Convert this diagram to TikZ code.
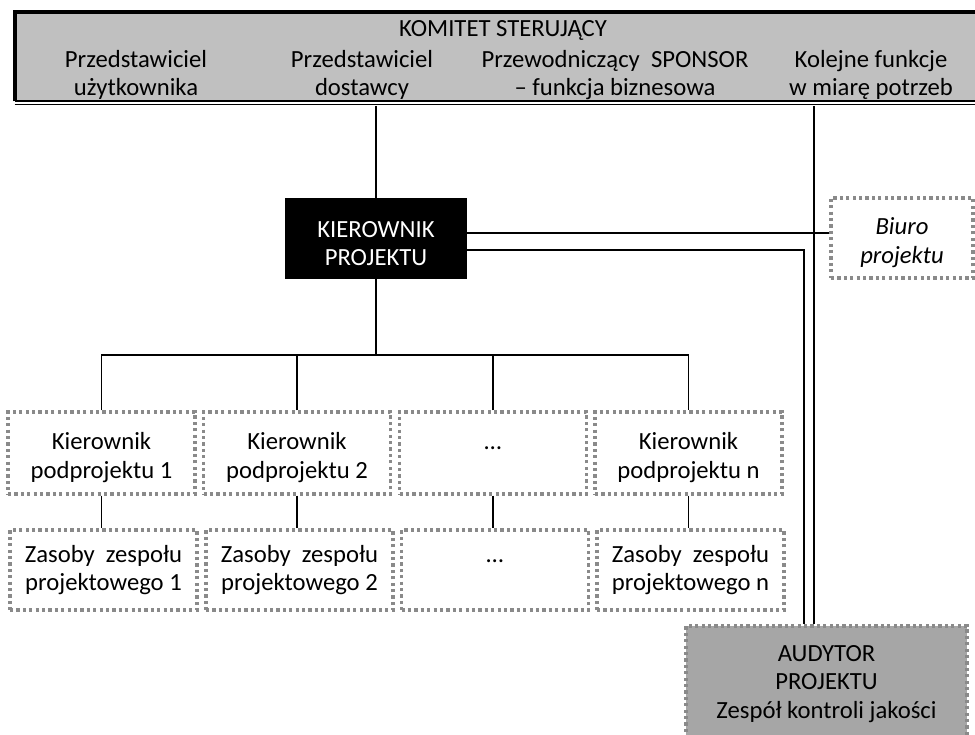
\documentclass[tikz,border=0pt]{standalone}
\usepackage{fontspec}
\setmainfont{Carlito}
\usetikzlibrary{calc}
\definecolor{headfill}{RGB}{192,192,192}
\definecolor{auditfill}{RGB}{166,166,166}
\definecolor{dotcol}{RGB}{138,138,138}
% lifts the first line so two-line labels sit a little lower in their boxes
\newcommand{\firstline}{\rule{0pt}{19.8pt}}
\tikzset{
  txt/.style={inner sep=0pt, align=center, font=\fontsize{18.5pt}{21.5pt}\selectfont},
  link/.style={draw=black, line width=1.2pt},
  dotbox/.style={txt, draw=dotcol, line width=2.5pt, dash pattern=on 2.4pt off 2.4pt},
  subbox/.style={dotbox, minimum width=140.25pt, minimum height=61.5pt},
  resbox/.style={dotbox, minimum width=140.25pt, minimum height=60pt},
}
\begin{document}
\begin{tikzpicture}[x=0.75pt, y=-0.75pt]
\useasboundingbox (0,0) rectangle (975,735);
\clip (0,0) rectangle (975,735);

% steering committee band
\node[fill=headfill, minimum width=727.5pt, minimum height=66.75pt, inner sep=0pt]
  (komitet) at (500,56.5) {};
\draw[line width=3pt] (komitet.south west) |- (komitet.north east);
\draw[line width=1.2pt] (komitet.south west) -- (komitet.south east);
\draw[line width=1.2pt] ($(komitet.south west)+(0,3.4)$) -- ($(komitet.south east)+(0,3.4)$);
\coordinate (kbot) at ($(komitet.south)+(0,4.5)$);

\node[txt, anchor=base] (ktitle) at (503,37) {KOMITET STERUJĄCY};
\node[txt] (col1) at (136,75) {Przedstawiciel\\użytkownika};
\node[txt] (col2) at (362,75) {Przedstawiciel\\dostawcy};
\node[txt] (col3) at (615,75) {Przewodniczący\ \ SPONSOR\\– funkcja biznesowa};
\node[txt] (col4) at (871,75) {Kolejne funkcje\\w miarę potrzeb};

% project manager
\node[txt, fill=black, text=white, minimum width=136.5pt, minimum height=60.75pt]
  (kp) at (376,238.5) {\firstline KIEROWNIK\\PROJEKTU};

% project office
\node[dotbox, minimum width=106.5pt, minimum height=60pt, font=\fontsize{18.5pt}{21.5pt}\selectfont\itshape]
  (biuro) at (902,238) {\firstline Biuro\\projektu};

% project auditor
\node[dotbox, fill=auditfill, minimum width=210.75pt, minimum height=87pt]
  (aud) at (826.5,684) {AUDYTOR\\PROJEKTU\\Zespół kontroli jakości};

% subproject managers
\node[subbox] (sp1) at (101.5,453) {\firstline Kierownik\\podprojektu 1};
\node[subbox] (sp2) at (297,453) {\firstline Kierownik\\podprojektu 2};
\node[subbox] (sp3) at (493,453) {\firstline …\\\phantom{dp}};
\node[subbox] (sp4) at (688.5,453) {\firstline Kierownik\\podprojektu n};

% team resources
\node[resbox] (zr1) at (103.5,570) {Zasoby\ \ zespołu\\projektowego 1};
\node[resbox] (zr2) at (299.5,570) {Zasoby\ \ zespołu\\projektowego 2};
\node[resbox] (zr3) at (495,570) {\vphantom{Zb}…\\\phantom{dp}};
\node[resbox] (zr4) at (690.5,570) {Zasoby\ \ zespołu\\projektowego n};

% connectors
\coordinate (bar) at ($(kp.south)+(0,76)$);
\coordinate (kpup) at ($(kp.east)+(0,-5.5)$);
\coordinate (kplow) at ($(kp.east)+(0,11.5)$);
\coordinate (audleft) at ($(aud.north)+(-22.5,0)$);
\coordinate (audright) at ($(aud.north)+(-12.5,0)$);

\draw[link] (kbot -| kp.north) -- (kp.north);
\draw[link] (kp.south) -- (bar);
\draw[link] (sp1.north) |- (bar) -| (sp4.north);
\draw[link] (sp2.north) -- (sp2.north |- bar);
\draw[link] (sp3.north) -- (sp3.north |- bar);
\foreach \i in {1,2,3,4} {
  \draw[link] (sp\i.south) -- (sp\i.south |- zr\i.north);
}
\draw[link] (kpup) -- (kpup -| biuro.west);
\draw[link] (kplow) -| (audleft);
\draw[link] (kbot -| audright) -- (audright);
\end{tikzpicture}
\end{document}
